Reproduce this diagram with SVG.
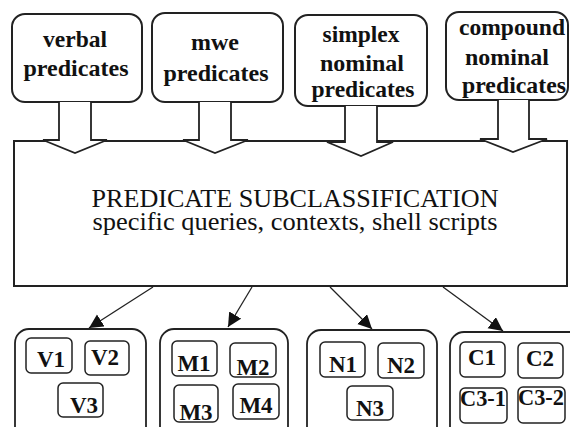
<svg xmlns="http://www.w3.org/2000/svg" width="570" height="427" viewBox="0 0 570 427">
  <style>
    .box { fill: #fff; stroke: #222; stroke-width: 2; }
    .grp { fill: #fff; stroke: #222; stroke-width: 1.8; }
    .sub { fill: #fff; stroke: #222; stroke-width: 1.5; }
    .blk { fill: #fff; stroke: #222; stroke-width: 1.8; stroke-linejoin: miter; }
    .lbl { font-family: "Liberation Serif", "Times New Roman", serif; font-weight: bold; font-size: 23px; fill: #111; text-anchor: middle; }
    .sl { font-family: "Liberation Serif", "Times New Roman", serif; font-weight: bold; font-size: 23px; fill: #111; text-anchor: middle; }
    .main { font-family: "Liberation Serif", "Times New Roman", serif; font-size: 26px; fill: #111; text-anchor: middle; }
    .con { stroke: #222; stroke-width: 1.3; fill: none; }
  </style>
  <defs>
    <marker id="tri" markerUnits="userSpaceOnUse" markerWidth="15" markerHeight="15" refX="14" refY="7" orient="auto">
      <path d="M0,0 L14,7 L0,14 Z" fill="#111"/>
    </marker>
  </defs>
  <rect width="570" height="427" fill="#fff"/>

  <!-- central processing block -->
  <g id="subclassification">
    <rect class="box" x="14" y="141" width="553" height="145"/>
    <text class="main" x="295" y="207" textLength="407" lengthAdjust="spacingAndGlyphs">PREDICATE SUBCLASSIFICATION</text>
    <text class="main" x="295" y="230" textLength="405" lengthAdjust="spacingAndGlyphs">specific queries, contexts, shell scripts</text>
  </g>

  <!-- input categories -->
  <g id="verbal">
    <rect class="box" x="12" y="14" width="130" height="88" rx="13"/>
    <text class="lbl" x="75" y="47" textLength="64" lengthAdjust="spacingAndGlyphs">verbal</text>
    <text class="lbl" x="76" y="76" textLength="105" lengthAdjust="spacingAndGlyphs">predicates</text>
  </g>
  <g id="mwe">
    <rect class="box" x="152" y="13" width="131" height="89" rx="13"/>
    <text class="lbl" x="215" y="50" textLength="48" lengthAdjust="spacingAndGlyphs">mwe</text>
    <text class="lbl" x="216" y="81" textLength="105" lengthAdjust="spacingAndGlyphs">predicates</text>
  </g>
  <g id="simplex">
    <rect class="box" x="295" y="15" width="132" height="91" rx="13"/>
    <text class="lbl" x="361" y="42" textLength="77" lengthAdjust="spacingAndGlyphs">simplex</text>
    <text class="lbl" x="362" y="71" textLength="84" lengthAdjust="spacingAndGlyphs">nominal</text>
    <text class="lbl" x="363" y="97" textLength="103" lengthAdjust="spacingAndGlyphs">predicates</text>
  </g>
  <g id="compound">
    <rect class="box" x="446" y="12" width="122" height="88" rx="13"/>
    <text class="lbl" x="512" y="35" textLength="106" lengthAdjust="spacingAndGlyphs">compound</text>
    <text class="lbl" x="507" y="65" textLength="84" lengthAdjust="spacingAndGlyphs">nominal</text>
    <text class="lbl" x="514" y="93" textLength="104" lengthAdjust="spacingAndGlyphs">predicates</text>
  </g>

  <!-- output groups -->
  <g id="verbal-classes">
    <rect class="grp" x="15" y="329" width="131" height="120" rx="14"/>
    <g id="V1"><rect class="sub" x="26" y="338" width="46" height="35" rx="5"/><text class="sl" x="51" y="367">V1</text></g>
    <g id="V2"><rect class="sub" x="85" y="341" width="44" height="34" rx="5"/><text class="sl" x="105" y="365">V2</text></g>
    <g id="V3"><rect class="sub" x="58" y="383" width="45" height="34" rx="5"/><text class="sl" x="84" y="413">V3</text></g>
  </g>
  <g id="mwe-classes">
    <rect class="grp" x="160" y="329" width="128" height="120" rx="14"/>
    <g id="M1"><rect class="sub" x="172" y="341" width="45" height="35" rx="5"/><text class="sl" x="194" y="371">M1</text></g>
    <g id="M2"><rect class="sub" x="230" y="343" width="46" height="34" rx="5"/><text class="sl" x="253" y="375">M2</text></g>
    <g id="M3"><rect class="sub" x="174" y="385" width="44" height="37" rx="5"/><text class="sl" x="196" y="420">M3</text></g>
    <g id="M4"><rect class="sub" x="233" y="384" width="46" height="35" rx="5"/><text class="sl" x="256" y="413">M4</text></g>
  </g>
  <g id="simplex-classes">
    <rect class="grp" x="307" y="330" width="130" height="120" rx="14"/>
    <g id="N1"><rect class="sub" x="320" y="342" width="45" height="35" rx="5"/><text class="sl" x="343" y="372">N1</text></g>
    <g id="N2"><rect class="sub" x="378" y="343" width="46" height="35" rx="5"/><text class="sl" x="401" y="373">N2</text></g>
    <g id="N3"><rect class="sub" x="347" y="386" width="46" height="34" rx="5"/><text class="sl" x="370" y="416">N3</text></g>
  </g>
  <g id="compound-classes">
    <rect class="grp" x="450" y="332" width="140" height="120" rx="14"/>
    <g id="C1"><rect class="sub" x="460" y="342" width="45" height="35" rx="5"/><text class="sl" x="482" y="365">C1</text></g>
    <g id="C2"><rect class="sub" x="518" y="343" width="45" height="35" rx="5"/><text class="sl" x="540" y="366">C2</text></g>
    <g id="C3-1"><rect class="sub" x="460" y="388" width="47" height="35" rx="5"/><text class="sl" x="483" y="406" textLength="46" lengthAdjust="spacingAndGlyphs">C3-1</text></g>
    <g id="C3-2"><rect class="sub" x="518" y="387" width="47" height="36" rx="5"/><text class="sl" x="541" y="405" textLength="46" lengthAdjust="spacingAndGlyphs">C3-2</text></g>
  </g>

  <!-- connectors: block arrows in, line arrows out -->
  <g id="connectors">
    <path class="blk" d="M59,102 L59,140 L43,140 L75,153 L107,140 L91,140 L91,102"/>
    <path class="blk" d="M199,102 L199,140 L183,140 L215,153 L248,140 L231,140 L231,102"/>
    <path class="blk" d="M345,106 L345,142 L327,142 L361,156 L393,142 L377,142 L377,106"/>
    <path class="blk" d="M498,100 L498,139 L480,139 L513,152 L547,139 L529,139 L529,100"/>
    <line class="con" x1="153" y1="287" x2="89" y2="328" marker-end="url(#tri)"/>
    <line class="con" x1="252" y1="287" x2="228" y2="327" marker-end="url(#tri)"/>
    <line class="con" x1="330" y1="287" x2="372" y2="329" marker-end="url(#tri)"/>
    <line class="con" x1="443" y1="287" x2="503" y2="331" marker-end="url(#tri)"/>
  </g>
</svg>
